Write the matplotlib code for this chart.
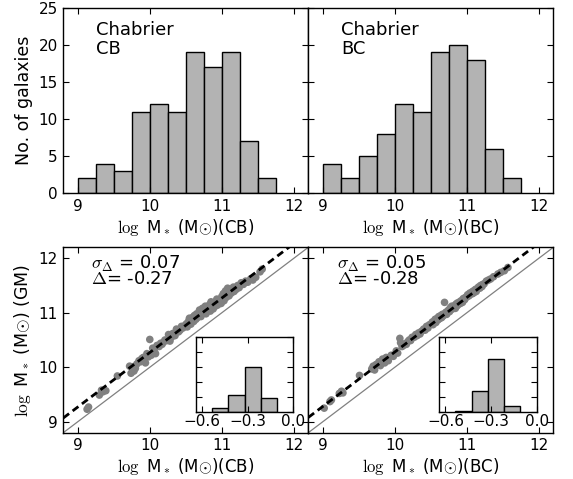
import matplotlib
matplotlib.use("Agg")
import matplotlib.pyplot as plt
import numpy as np

plt.rcParams["mathtext.fontset"] = "cm"
plt.rcParams["font.family"] = "DejaVu Sans"

# histogram bins of log M* (top panels)
mass_edges = [9.0, 9.25, 9.5, 9.75, 10.0, 10.25, 10.5, 10.75, 11.0, 11.25, 11.5, 11.75]
counts_cb = [2, 4, 3, 11, 12, 11, 19, 17, 19, 7, 2]
counts_bc = [4, 2, 5, 8, 12, 11, 19, 20, 18, 6, 2]

# residual histograms (insets)
delta_edges = [-0.535, -0.428, -0.321, -0.214, -0.107]
delta_counts_cb = [5, 23, 60, 19]
delta_counts_bc = [1, 28, 71, 7]

# scatter: CB masses vs GM masses
cb_x = [9.13, 9.15,
        9.30, 9.33, 9.35, 9.39,
        9.55, 9.72, 9.74,
        9.76, 9.78, 9.80, 9.82, 9.85, 9.87, 9.89, 9.91, 9.94, 9.96, 9.98,
        10.00, 10.02, 10.04, 10.06, 10.08, 10.10, 10.13, 10.15, 10.17, 10.19, 10.21, 10.24,
        10.26, 10.28, 10.30, 10.32, 10.35, 10.37, 10.40, 10.42, 10.44, 10.46, 10.49,
        10.51, 10.52, 10.54, 10.55, 10.57, 10.58, 10.60, 10.61, 10.62, 10.64, 10.65, 10.66,
        10.68, 10.69, 10.70, 10.71, 10.72, 10.73, 10.74,
        10.76, 10.77, 10.78, 10.80, 10.81, 10.83, 10.84, 10.85, 10.87, 10.88, 10.90, 10.91,
        10.93, 10.94, 10.96, 10.97, 10.99,
        11.00, 11.01, 11.02, 11.03, 11.05, 11.06, 11.07, 11.08, 11.10, 11.11, 11.12, 11.13,
        11.15, 11.16, 11.17, 11.19, 11.20, 11.22, 11.24,
        11.27, 11.30, 11.33, 11.36, 11.40, 11.43, 11.47,
        11.53, 11.56]
cb_y = [9.23, 9.27,
        9.49, 9.58, 9.55, 9.57,
        9.84, 10.02, 9.89,
        10.01, 9.93, 9.98, 10.06, 10.12, 10.10, 10.16, 10.18, 10.08, 10.25, 10.19,
        10.51, 10.22, 10.35, 10.30, 10.25, 10.40, 10.38, 10.44, 10.42, 10.46, 10.50, 10.49,
        10.60, 10.48, 10.55, 10.62, 10.58, 10.70, 10.65, 10.68, 10.75, 10.72, 10.77,
        10.80, 10.74, 10.85, 10.90, 10.79, 10.86, 10.92, 10.84, 10.95, 10.88, 10.98, 10.91,
        10.94, 11.05, 10.97, 10.93, 11.00, 11.08, 10.99,
        11.02, 11.12, 10.98, 11.08, 11.05, 11.15, 11.03, 11.20, 11.10, 11.07, 11.18, 11.12,
        11.25, 11.14, 11.19, 11.22, 11.17,
        11.30, 11.25, 11.35, 11.22, 11.40, 11.28, 11.33, 11.45, 11.31, 11.38, 11.42, 11.36,
        11.40, 11.47, 11.39, 11.44, 11.43, 11.50, 11.46,
        11.55, 11.52, 11.58, 11.56, 11.62, 11.60, 11.65,
        11.75, 11.80]

# scatter: BC masses vs GM masses
bc_x = [9.02, 9.10, 9.12, 9.23,
        9.26, 9.28,
        9.51, 9.68, 9.70, 9.72, 9.74,
        9.78, 9.80, 9.83, 9.86, 9.88, 9.91, 9.95, 9.98,
        10.02, 10.04, 10.07, 10.08, 10.10, 10.12, 10.14, 10.16, 10.18, 10.20, 10.22, 10.24,
        10.27, 10.29, 10.31, 10.33, 10.35, 10.37, 10.40, 10.42, 10.44, 10.46, 10.48,
        10.51, 10.52, 10.53, 10.55, 10.56, 10.57, 10.59, 10.60, 10.61, 10.62, 10.64, 10.65,
        10.66, 10.67, 10.69, 10.70, 10.71, 10.72, 10.74,
        10.75, 10.76, 10.77, 10.78, 10.79, 10.80, 10.81, 10.83, 10.84, 10.85, 10.86, 10.87,
        10.88, 10.90, 10.91, 10.92, 10.94, 10.95, 10.97, 10.98,
        11.00, 11.01, 11.03, 11.04, 11.05, 11.07, 11.08, 11.09, 11.10, 11.12, 11.13, 11.15,
        11.16, 11.18, 11.19, 11.21, 11.22, 11.24,
        11.27, 11.30, 11.33, 11.37, 11.43, 11.47,
        11.52, 11.57]
bc_y = [9.25, 9.37, 9.40, 9.52,
        9.56, 9.53,
        9.85, 9.97, 10.02, 9.95, 10.05,
        10.10, 10.03, 10.15, 10.08, 10.18, 10.12, 10.22, 10.20,
        10.30, 10.26, 10.53, 10.45, 10.38, 10.40, 10.43, 10.42, 10.47, 10.50, 10.49, 10.55,
        10.55, 10.60, 10.58, 10.63, 10.61, 10.66, 10.70, 10.68, 10.75, 10.72, 10.78,
        10.80, 10.83, 10.78, 10.85, 10.88, 10.82, 10.90, 10.87, 10.93, 10.89, 10.95, 10.91,
        10.97, 10.94, 11.19, 10.99, 11.01, 10.97, 11.04,
        11.05, 11.02, 11.09, 11.06, 11.12, 11.07, 11.10, 11.13, 11.08, 11.16, 11.12, 11.18,
        11.15, 11.20, 11.17, 11.22, 11.19, 11.26, 11.24, 11.28,
        11.29, 11.33, 11.31, 11.36, 11.34, 11.38, 11.35, 11.40, 11.37, 11.43, 11.39, 11.44,
        11.47, 11.45, 11.50, 11.48, 11.52, 11.53,
        11.58, 11.60, 11.62, 11.66, 11.71, 11.74,
        11.77, 11.83]

offset_cb = 0.27
offset_bc = 0.28
sigma_cb = 0.07
sigma_bc = 0.05

lims = (8.8, 12.2)
bar_color = "#b3b3b3"
tick_fs = 11


def style(ax):
    ax.tick_params(direction="in", top=True, right=True, length=4, width=0.8,
                   labelsize=tick_fs, pad=4)
    for s in ax.spines.values():
        s.set_linewidth(1.0)


fig = plt.figure(figsize=(5.73, 4.79), dpi=100)

w = 0.4276
h = 0.387
top_cb = fig.add_axes([0.1105, 0.5965, w, h])
top_bc = fig.add_axes([0.1105 + w, 0.5965, w, h])
bot_cb = fig.add_axes([0.1105, 0.0967, w, h])
bot_bc = fig.add_axes([0.1105 + w, 0.0967, w, h])

for ax, counts, name in [(top_cb, counts_cb, "CB"), (top_bc, counts_bc, "BC")]:
    ax.hist(mass_edges[:-1], bins=mass_edges, weights=counts,
            color=bar_color, edgecolor="black", linewidth=1.0)
    ax.set_xlim(lims)
    ax.set_ylim(0, 25)
    ax.set_xticks([9, 10, 11, 12])
    ax.set_yticks([0, 5, 10, 15, 20, 25])
    style(ax)
    ax.set_xlabel(r"$\log$ M$_*$ (M$\odot$)(" + name + ")", fontsize=12, labelpad=2)
    ax.text(0.135, 0.93, "Chabrier\n" + name, transform=ax.transAxes,
            fontsize=13, va="top", ha="left", linespacing=1.1)
top_cb.set_ylabel("No. of galaxies", fontsize=12.5)
top_bc.tick_params(labelleft=False)

for ax, xs, ys, off, sig, name in [(bot_cb, cb_x, cb_y, offset_cb, sigma_cb, "CB"),
                                    (bot_bc, bc_x, bc_y, offset_bc, sigma_bc, "BC")]:
    ax.plot(lims, lims, color="gray", lw=0.9)
    ax.scatter(xs, ys, s=30, color="#808080", edgecolors="none", zorder=3)
    ax.plot(lims, [lims[0] + off, lims[1] + off], color="black", lw=2,
            dashes=(2.6, 1.6), zorder=4)
    ax.set_xlim(lims)
    ax.set_ylim(lims)
    ax.set_xticks([9, 10, 11, 12])
    ax.set_yticks([9, 10, 11, 12])
    style(ax)
    ax.set_xlabel(r"$\log$ M$_*$ (M$\odot$)(" + name + ")", fontsize=12, labelpad=2)
    ax.text(0.115, 0.885, r"$\sigma_\Delta$ = %.2f" % sig, transform=ax.transAxes,
            fontsize=13, va="baseline", ha="left")
    ax.text(0.115, 0.80, r"$\Delta$= -%.2f" % off, transform=ax.transAxes,
            fontsize=13, va="baseline", ha="left")
bot_cb.set_ylabel(r"$\log$ M$_*$ (M$\odot$) (GM)", fontsize=12.5)
bot_bc.tick_params(labelleft=False)

# insets with residual distributions
ins_w = 0.170
ins_h = 0.1553
ins_cb = fig.add_axes([0.342, 0.1405, ins_w, ins_h])
ins_bc = fig.add_axes([0.7667, 0.1405, ins_w, ins_h])
for ax, counts in [(ins_cb, delta_counts_cb), (ins_bc, delta_counts_bc)]:
    ax.hist(delta_edges[:-1], bins=delta_edges, weights=counts,
            color=bar_color, edgecolor="black", linewidth=1.0)
    ax.set_xlim(-0.64, 0.0)
    ax.set_ylim(0, 100)
    ax.set_xticks([-0.6, -0.3, 0.0])
    ax.set_xticklabels(["\u22120.6", "\u22120.3", "0.0"])
    ax.set_yticks([0, 20, 40, 60, 80, 100])
    style(ax)
    ax.tick_params(labelleft=False, length=4, pad=2)

fig.savefig("out.png", dpi=100)
